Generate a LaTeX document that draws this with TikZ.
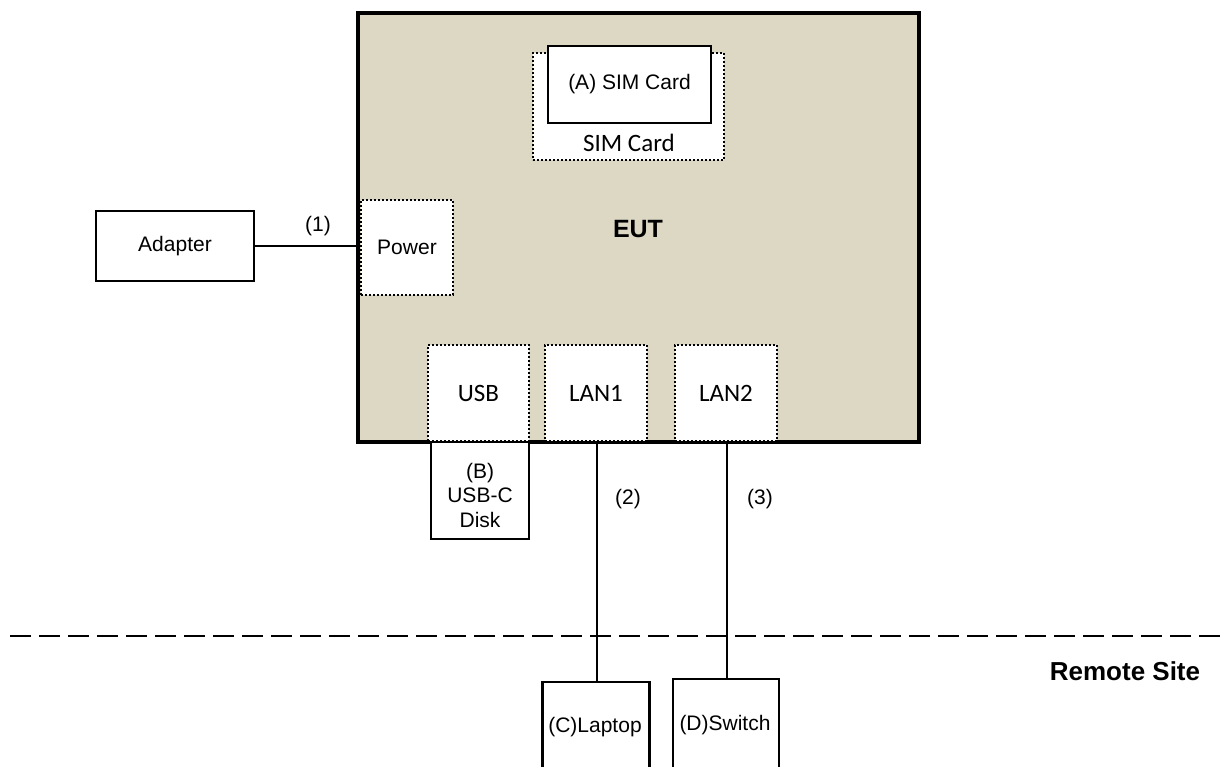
\documentclass[tikz,border=0pt]{standalone}
\usepackage{fontspec}
\setmainfont{Liberation Sans}
\newfontfamily\calib{Carlito}
\definecolor{eutfill}{RGB}{221,216,196}
\begin{document}
\begin{tikzpicture}[x=1pt,y=-1pt,
  solidbox/.style={draw=black, line width=2.8pt, fill=white, inner sep=0pt, align=center, font=\fontsize{21}{24}\selectfont},
  portbox/.style={draw=black, line width=2pt, dash pattern=on 2pt off 2pt, fill=white, inner sep=0pt, align=center},
  lbl/.style={inner sep=0pt, font=\fontsize{21}{24}\selectfont},
  clbl/.style={inner sep=0pt, font=\calib\fontsize{25}{28}\selectfont},
  blbl/.style={inner sep=0pt, font=\bfseries\fontsize{25}{28}\selectfont},
  wire/.style={line width=2.8pt}]
\useasboundingbox (0,0) rectangle (1221,767);
\clip (0,0) rectangle (1221,767);
% EUT
\node[draw=black, line width=3.2pt, fill=eutfill, minimum width=561pt, minimum height=429pt, inner sep=0pt] (eut) at (638.5,227.5) {};
\node[blbl] (eutlbl) at (638,229) {EUT};
% SIM card slot
\node[portbox, minimum width=191pt, minimum height=107pt] (simslot) at (628.5,106.5) {};
\node[clbl] (simslotlbl) at (629,143) {SIM Card};
\node[solidbox, minimum width=163pt, minimum height=77pt] (sim) at (629.5,84.5) {(A) SIM Card};
% Power
\node[portbox, minimum width=92pt, minimum height=95pt, font=\fontsize{21}{24}\selectfont] (power) at (407,247.5) {Power};
% Adapter
\node[solidbox, minimum width=158pt, minimum height=70pt] (adapter) at (175,246) {Adapter};
\draw[wire] (adapter.east) -- (eut.west |- adapter.east);
\node[lbl] (l1) at (318,226) {(1)};
% ports
\node[portbox, minimum width=101pt, minimum height=96pt, font=\calib\fontsize{25}{28}\selectfont] (usb) at (478.5,393) {USB};
\node[portbox, minimum width=102pt, minimum height=96pt, font=\calib\fontsize{25}{28}\selectfont] (lan1) at (596,393) {LAN1};
\node[portbox, minimum width=102pt, minimum height=96pt, font=\calib\fontsize{25}{28}\selectfont] (lan2) at (726,393) {LAN2};
% USB disk
\node[solidbox, minimum width=98pt, minimum height=97pt] (disk) at (480,490.5) {};
\node[lbl, align=center, font=\fontsize{21}{24.5}\selectfont] (disklbl) at (480,495) {(B)\\USB-C\\Disk};
% remote devices
\node[solidbox, minimum width=107pt, minimum height=120pt] (laptop) at (596,742) {};
\node[lbl] (laptoplbl) at (595,727) {(C)Laptop};
\node[solidbox, minimum width=106pt, minimum height=120pt] (switch) at (726,739) {};
\node[lbl] (switchlbl) at (725,725) {(D)Switch};
% cables
\draw[wire] (eut.south -| 597,0) -- (laptop.north -| 597,0);
\draw[wire] (eut.south -| 727,0) -- (switch.north -| 727,0);
\node[lbl] (l2) at (628,499) {(2)};
\node[lbl] (l3) at (760,499) {(3)};
% site boundary
\coordinate (dl) at (10,636);
\coordinate (dr) at (1221,636);
\draw[line width=2.8pt, dash pattern=on 21pt off 8pt] (dl) -- (dr);
\node[blbl, font=\bfseries\fontsize{26}{30}\selectfont] (remote) at (1125,671) {Remote Site};
\end{tikzpicture}
\end{document}
